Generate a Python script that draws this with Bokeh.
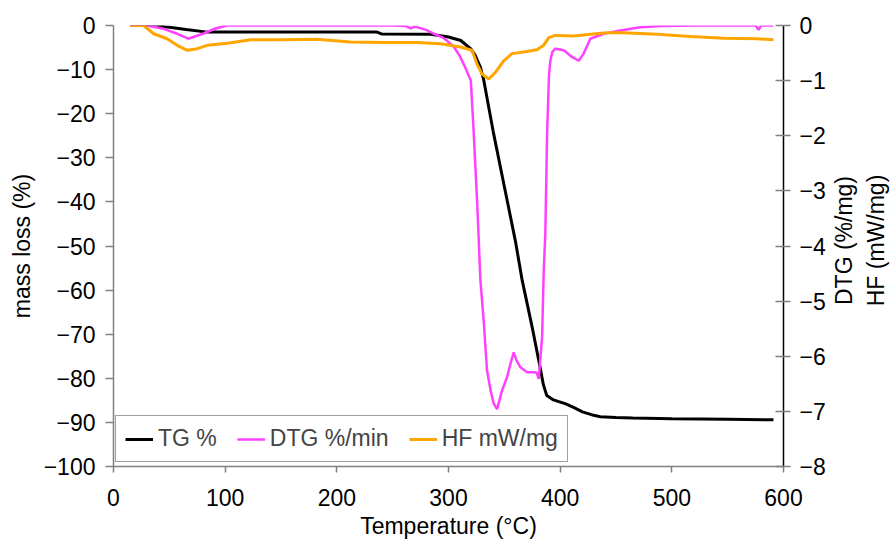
from bokeh.plotting import figure
from bokeh.layouts import row
from bokeh.models import LinearAxis, Range1d, FixedTicker, Legend, LegendItem
from bokeh.embed import file_html
from bokeh.resources import INLINE

# ---- data ----
tg_t = [15, 36, 50, 65, 84, 150, 236, 240, 284, 300, 311, 320, 324, 328.6, 331.5,
        340, 350, 360, 366, 375, 382, 385, 388, 394, 405, 412, 420, 430, 436, 450,
        465, 500, 550, 591]
tg_v = [0, 0, -0.4, -0.9, -1.5, -1.5, -1.5, -1.9, -2.0, -2.6, -3.4, -5.3, -6.8, -9.5, -12.3,
        -24, -36.5, -49, -57.8, -68.5, -77.5, -81.5, -83.9, -84.9, -85.8, -86.6, -87.6, -88.4, -88.7, -88.9,
        -89.0, -89.2, -89.3, -89.4]

dtg_t = [15, 30, 45, 57, 67, 80, 92, 102, 150, 200, 250, 262, 266, 270, 280, 287, 295,
         300, 305, 310, 315, 320, 322.6, 325.6, 328.6, 331.5, 334.5, 338, 340.5, 343.5,
         348, 352.4, 356, 358.4, 361, 364.4, 370.4, 376.3, 379, 380.8, 383.8, 385.3,
         386.7, 388.3, 390, 391.2, 393, 395.7, 403.2, 410.6, 416.6, 421, 427, 438.9,
         453.9, 471.8, 490, 520, 560, 575, 577.7, 580, 591]
dtg_v = [0, 0, -0.06, -0.15, -0.24, -0.15, -0.05, 0, 0, 0, 0, -0.01, -0.05, -0.02, -0.08, -0.15, -0.22,
         -0.3, -0.39, -0.55, -0.76, -1.0, -1.96, -3.18, -4.63, -5.35, -6.26, -6.65, -6.86, -6.96,
         -6.62, -6.38, -6.1, -5.93, -6.08, -6.2, -6.29, -6.29, -6.3, -6.41, -5.66, -4.45,
         -3.78, -1.96, -0.9, -0.64, -0.48, -0.42, -0.45, -0.57, -0.64, -0.51, -0.24, -0.15,
         -0.09, -0.03, -0.01, 0, 0, 0, -0.08, 0, 0]

hf_t = [15, 27, 36, 48, 57, 66, 75, 84, 102, 123, 152, 182, 212, 242, 272, 293, 310.6,
        321, 325.6, 330, 336, 342, 349.4, 356.9, 367.3, 379.3, 385.2, 389.7, 395.7,
        412.1, 427, 442, 456.8, 486.7, 516.6, 546.4, 576.3, 591]
hf_v = [0, 0, -0.15, -0.24, -0.36, -0.45, -0.42, -0.36, -0.32, -0.26, -0.26, -0.25, -0.3, -0.31, -0.31, -0.33, -0.39,
        -0.45, -0.7, -0.88, -0.97, -0.85, -0.64, -0.51, -0.48, -0.44, -0.36, -0.22, -0.18,
        -0.19, -0.16, -0.13, -0.13, -0.16, -0.2, -0.23, -0.24, -0.26]

x_ticks = [0, 100, 200, 300, 400, 500, 600]
left_ticks = [0, -10, -20, -30, -40, -50, -60, -70, -80, -90, -100]
right_ticks = [0, -1, -2, -3, -4, -5, -6, -7, -8]

series_names = ["TG %", "DTG %/min", "HF mW/mg"]
right_title = "DTG (%/mg)\nHF (mW/mg)"
colors = ["#000000", "#FF40FF", "#FFA500"]

FONT = "Liberation Sans"
FS = "23px"

p = figure(frame_width=670, frame_height=441, output_backend="svg", toolbar_location=None,
           x_range=Range1d(0, 600), y_range=Range1d(-100, 0),
           min_border_left=113, min_border_right=40, min_border_top=25, min_border_bottom=76)
p.extra_y_ranges = {"right": Range1d(-8, 0)}
p.outline_line_color = None
p.xgrid.visible = False
p.ygrid.visible = False
p.background_fill_color = "white"
p.border_fill_color = "white"

r_tg = p.line(tg_t, tg_v, line_color=colors[0], line_width=3)
r_dtg = p.line(dtg_t, dtg_v, line_color=colors[1], line_width=2.5, y_range_name="right")
r_hf = p.line(hf_t, hf_v, line_color=colors[2], line_width=3, y_range_name="right")

def style_axis(ax, line_color):
    ax.axis_line_color = line_color
    ax.axis_line_width = 1.5
    ax.major_tick_line_color = "#808080"
    ax.major_tick_line_width = 1.5
    ax.minor_tick_line_color = None
    ax.major_label_text_font = FONT
    ax.major_label_text_font_size = FS
    ax.major_label_text_color = "black"
    ax.axis_label_text_font = FONT
    ax.axis_label_text_font_size = FS
    ax.axis_label_text_font_style = "normal"
    ax.axis_label_text_color = "black"

xa = p.xaxis[0]
xa.ticker = FixedTicker(ticks=x_ticks)
xa.axis_label = "Temperature (°C)"
style_axis(xa, "#808080")
xa.major_tick_out = 6
xa.major_tick_in = 0
xa.major_label_standoff = 16
xa.axis_label_standoff = 4

ya = p.yaxis[0]
ya.ticker = FixedTicker(ticks=left_ticks)
ya.axis_label = "mass loss (%)"
style_axis(ya, "#808080")
ya.major_tick_out = 8
ya.major_tick_in = 0
ya.major_label_standoff = 10
ya.axis_label_standoff = 6

ra = LinearAxis(y_range_name="right", ticker=FixedTicker(ticks=right_ticks))
style_axis(ra, "#000000")
ra.major_tick_out = 7
ra.major_tick_in = 8
ra.major_label_standoff = 9
p.add_layout(ra, "right")

legend = Legend(items=[LegendItem(label=series_names[0], renderers=[r_tg]),
                       LegendItem(label=series_names[1], renderers=[r_dtg]),
                       LegendItem(label=series_names[2], renderers=[r_hf])],
                orientation="horizontal", location=(2, 4),
                label_text_font=FONT, label_text_font_size=FS,
                glyph_width=28, label_standoff=5, spacing=20, padding=9, margin=0,
                border_line_color="#404040", border_line_width=1.5,
                background_fill_color="white", background_fill_alpha=1.0)
p.add_layout(legend, "center")

# narrow companion figure that carries the right-hand axis title (reads bottom to top)
p2 = figure(frame_width=2, frame_height=430, output_backend="svg", toolbar_location=None,
            x_range=Range1d(0, 1), y_range=Range1d(-8, 0), x_axis_location=None,
            min_border_left=60, min_border_right=0, min_border_top=25, min_border_bottom=87)
p2.outline_line_color = None
p2.xgrid.visible = False
p2.ygrid.visible = False
p2.background_fill_color = "white"
p2.border_fill_color = "white"
ta = p2.yaxis[0]
ta.ticker = FixedTicker(ticks=[])
ta.axis_line_color = None
ta.major_tick_line_color = None
ta.minor_tick_line_color = None
ta.major_tick_out = 0
ta.major_tick_in = 0
ta.major_label_standoff = 0
ta.axis_label = right_title
ta.axis_label_standoff = 0
ta.axis_label_text_font = FONT
ta.axis_label_text_font_size = FS
ta.axis_label_text_font_style = "normal"
ta.axis_label_text_color = "black"

layout = row(p, p2, spacing=0)
open("out.html", "w").write(file_html(layout, INLINE))
